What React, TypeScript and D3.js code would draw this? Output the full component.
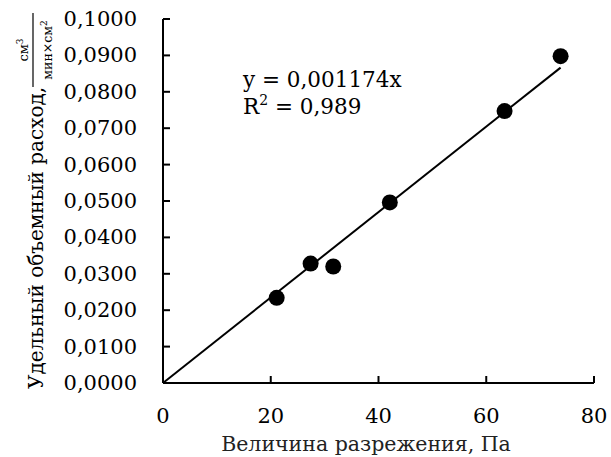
import React from "react";
import * as d3 from "d3";

const xValues = [21.1, 27.4, 31.6, 42.1, 63.4, 73.8];
const yValues = [0.0234, 0.0328, 0.0320, 0.0496, 0.0747, 0.0898];
const slope = 0.001174;
const xTicks = [0, 20, 40, 60, 80];
const yTicks = [0, 0.01, 0.02, 0.03, 0.04, 0.05, 0.06, 0.07, 0.08, 0.09, 0.1];
const equationText = "y = 0,001174x";
const r2Text = "0,989";
const xTitle = "Величина разрежения, Па";
const yTitle = "Удельный объемный расход,";

const W = 611;
const H = 457;
const left = 163;
const right = 594;
const top = 19;
const bottom = 383;
const font = "DejaVu Serif";

export default function App() {
  const x = d3.scaleLinear().domain([0, 80]).range([left, right]);
  const y = d3.scaleLinear().domain([0, 0.1]).range([bottom, top]);
  const fmt = (v: number) => v.toFixed(4).replace(".", ",");
  const xMax = d3.max(xValues) as number;
  const line = d3.line<number>().x((d) => x(d)).y((d) => y(d * slope));

  return (
    <svg width={W} height={H} style={{ position: "absolute", left: 0, top: 0, background: "#fff" }}>
      <rect width={W} height={H} fill="#fff" />
      <line x1={left} y1={top} x2={left} y2={bottom} stroke="#000" strokeWidth={2} />
      <line x1={left} y1={bottom} x2={right} y2={bottom} stroke="#000" strokeWidth={2} />
      {yTicks.map((t) => (
        <g key={"y" + t}>
          <line x1={left} x2={left + 7} y1={y(t)} y2={y(t)} stroke="#000" strokeWidth={2} />
          <text x={137} y={y(t) + 7} textAnchor="end" fontFamily={font} fontSize={21} fill="#000">
            {fmt(t)}
          </text>
        </g>
      ))}
      {xTicks.map((t) => (
        <g key={"x" + t}>
          <line x1={x(t)} x2={x(t)} y1={bottom} y2={bottom - 7} stroke="#000" strokeWidth={2} />
          <text x={x(t)} y={423} textAnchor="middle" fontFamily={font} fontSize={21} fill="#000">
            {t}
          </text>
        </g>
      ))}
      <path d={line([0, xMax]) as string} stroke="#000" strokeWidth={2} fill="none" />
      {xValues.map((v, i) => (
        <circle key={i} cx={x(v)} cy={y(yValues[i])} r={8} fill="#000" />
      ))}
      <text x={243} y={87} fontFamily={font} fontSize={21.5} fill="#000">{equationText}</text>
      <text x={243} y={114} fontFamily={font} fontSize={21.5} fill="#000">
        R<tspan dy={-9} fontSize={14}>2</tspan><tspan dy={9}> = {r2Text}</tspan>
      </text>
      <text x={366} y={451} textAnchor="middle" fontFamily={font} fontSize={20.5} fill="#222">{xTitle}</text>
      <g transform="translate(43,389) rotate(-90)">
        <text x={0} y={0} fontFamily={font} fontSize={20} fill="#000">{yTitle}</text>
      </g>
      <g transform="translate(33,50) rotate(-90)">
        <text x={0} y={-5} textAnchor="middle" fontFamily={font} fontSize={13} fill="#000">
          см<tspan dy={-5} fontSize={9}>3</tspan>
        </text>
        <line x1={-37} x2={37} y1={0} y2={0} stroke="#000" strokeWidth={1.2} />
        <text x={0} y={19} textAnchor="middle" fontFamily={font} fontSize={12.5} fill="#000">
          мин×см<tspan dy={-5} fontSize={9}>2</tspan>
        </text>
      </g>
    </svg>
  );
}
